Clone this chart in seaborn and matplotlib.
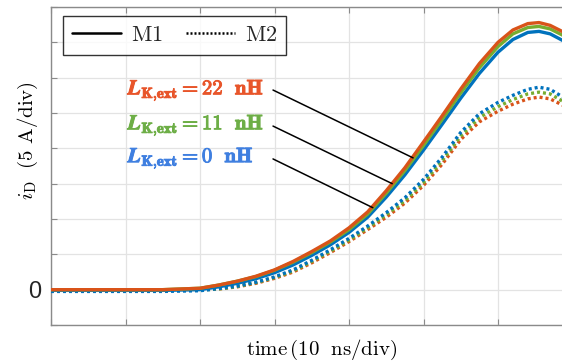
import numpy as np
import pandas as pd
import matplotlib
matplotlib.use("Agg")
import matplotlib.pyplot as plt
import matplotlib.patheffects as pe
from matplotlib.lines import Line2D
import seaborn as sns

# ---------------- data (units: divisions) ----------------
t_div = [0, 0.5, 1.0, 1.5, 2.0, 2.25, 2.5, 2.75, 3.0, 3.25, 3.5, 3.75, 4.0, 4.25,
         4.5, 4.75, 5.0, 5.25, 5.5, 5.75, 6.0, 6.2, 6.4, 6.55, 6.7, 6.87]

m1_22nH = [0, 0, 0, 0, 0.04, 0.13, 0.24, 0.38, 0.56, 0.80, 1.08, 1.38, 1.75, 2.20,
           2.80, 3.45, 4.18, 4.92, 5.68, 6.40, 7.00, 7.35, 7.53, 7.56, 7.48, 7.30]
m1_11nH = [0, 0, 0, 0, 0.04, 0.13, 0.24, 0.37, 0.55, 0.78, 1.05, 1.35, 1.70, 2.14,
           2.73, 3.37, 4.08, 4.82, 5.57, 6.28, 6.88, 7.24, 7.42, 7.45, 7.38, 7.20]
m1_0nH = [-0.02, -0.02, -0.02, -0.02, 0.0, 0.08, 0.18, 0.31, 0.48, 0.70, 0.97, 1.27, 1.62, 2.05,
          2.62, 3.25, 3.95, 4.68, 5.42, 6.12, 6.72, 7.08, 7.28, 7.31, 7.24, 7.05]

m2_22nH = [0, 0, 0, 0, 0, 0.02, 0.08, 0.18, 0.32, 0.50, 0.76, 1.05, 1.36, 1.70,
           2.05, 2.45, 2.95, 3.55, 4.25, 4.75, 5.05, 5.25, 5.40, 5.45, 5.40, 5.22]
m2_11nH = [-0.02, -0.02, -0.02, -0.02, -0.01, 0.02, 0.09, 0.20, 0.34, 0.53, 0.80, 1.09, 1.40, 1.75,
           2.12, 2.52, 3.03, 3.65, 4.35, 4.87, 5.18, 5.38, 5.54, 5.59, 5.54, 5.33]
m2_0nH = [-0.05, -0.05, -0.05, -0.05, -0.03, 0.03, 0.10, 0.21, 0.36, 0.56, 0.83, 1.13, 1.45, 1.80,
          2.18, 2.60, 3.12, 3.75, 4.45, 4.98, 5.30, 5.50, 5.67, 5.73, 5.67, 5.45]

labels = ["22", "11", "0"]
curve_colors = ["#D95319", "#77AC30", "#0072BD"]
text_colors = ["#E8552A", "#6DAE46", "#3F7FE0"]

# annotation pointer lines: (text end x, y) -> (curve x, y)
ann_start_x = [2.98, 2.98, 2.98]
ann_start_y = [5.65, 4.63, 3.70]
ann_end_x = [4.86, 4.58, 4.32]
ann_end_y = [3.73, 3.00, 2.32]
text_x = 1.03
text_y = [5.65, 4.66, 3.73]

# ---------------- style ----------------
sns.set_theme(style="white")
plt.rcParams["mathtext.fontset"] = "cm"
plt.rcParams["font.family"] = ["Liberation Sans", "DejaVu Sans"]

W, H = 562, 362
fig = plt.figure(figsize=(W / 100, H / 100), dpi=100)
ax = fig.add_axes([51 / W, (H - 325) / H, 1 - 51 / W, (325 - 7) / H])

m1 = {"22": m1_22nH, "11": m1_11nH, "0": m1_0nH}
m2 = {"22": m2_22nH, "11": m2_11nH, "0": m2_0nH}

# dotted M2 first, blue on top
for lab, col, z in zip(labels, curve_colors, [3, 4, 5]):
    sns.lineplot(x=t_div, y=m2[lab], ax=ax, color=col, lw=2.4,
                 linestyle=(0, (0.9, 0.9)), zorder=z, legend=False)
# solid M1, orange on top
for lab, col, z in zip(labels, curve_colors, [8, 7, 6]):
    sns.lineplot(x=t_div, y=m1[lab], ax=ax, color=col, lw=2.4,
                 linestyle="-", zorder=z, legend=False)

for i in range(3):
    ax.plot([ann_start_x[i], ann_end_x[i]], [ann_start_y[i], ann_end_y[i]],
            color="black", lw=1.1, zorder=10)
    t = ax.text(text_x, text_y[i],
                r"$\mathbfit{L}_{\mathbf{K{,}ext}}=\mathbf{" + labels[i] + r"\ \ nH}$",
                color=text_colors[i], fontsize=15, ha="left", va="center", zorder=11)
    t.set_path_effects([pe.withStroke(linewidth=0.7, foreground=text_colors[i])])

ax.set_xlim(0, (W - 51) / 74.5)
ax.set_ylim(-1, 8)
ax.set_xticks(range(0, 7))
ax.set_xticklabels([])
ax.set_yticks(range(-1, 9))
ax.set_yticklabels(["" if v != 0 else "0" for v in range(-1, 9)])
ax.grid(True, color="#e3e3e3", lw=0.9)
ax.tick_params(axis="both", direction="in", length=4, width=0.8, color="#8a8a8a",
               top=True, bottom=True, left=True, right=False,
               labelsize=17, labelcolor="#262626", pad=7)
for s in ["left", "bottom", "top"]:
    ax.spines[s].set_color("#8a8a8a")
    ax.spines[s].set_linewidth(1.0)
ax.spines["right"].set_visible(False)

ax.set_xlabel(r"$\mathrm{time}\,(10\ \ \mathrm{ns/div})$", fontsize=15, color="black")
ax.xaxis.set_label_coords((322 - 51) / (W - 51), -0.04, transform=ax.transAxes)
ax.xaxis.label.set_va("top")
ax.set_ylabel(r"$i_{\mathrm{D}}\ \ (5\ \mathrm{A/div})$", fontsize=15, color="black")
ax.yaxis.set_label_coords(-(51 - 28) / (W - 51), (325 - 141) / 318, transform=ax.transAxes)
ax.yaxis.label.set_va("center")

handles = [Line2D([], [], color="black", lw=1.8, ls="-"),
           Line2D([], [], color="black", lw=1.8, ls=(0, (0.8, 0.8)))]
leg = ax.legend(handles, [r"$\mathrm{M1}$", r"$\mathrm{M2}$"], ncol=2,
                loc="upper left", bbox_to_anchor=((63 - 51) / 511, (325 - 16) / 318),
                borderaxespad=0, fontsize=16, frameon=True, fancybox=False,
                handlelength=2.2, columnspacing=1.05, handletextpad=0.45,
                borderpad=0.4)
leg.get_frame().set_edgecolor("black")
leg.get_frame().set_linewidth(1.0)
leg.set_zorder(20)

fig.savefig("out.png", dpi=100)
